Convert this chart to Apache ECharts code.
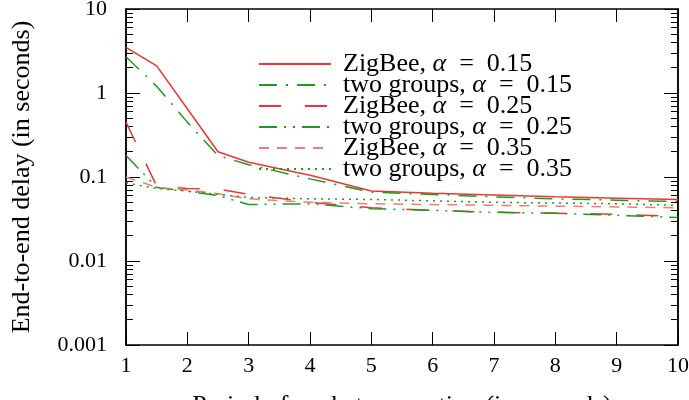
<!DOCTYPE html>
<html>
<head>
<meta charset="utf-8">
<script src="https://cdn.jsdelivr.net/npm/echarts@6/dist/echarts.min.js"></script>
<style>
  html, body { margin: 0; padding: 0; background: #fff; }
  #chart { width: 689px; height: 400px; }
</style>
</head>
<body>
<div id="chart"></div>
<script>
// packet generation period (s)
const periods = [1, 1.5, 2, 2.5, 3, 4, 5, 6, 7, 8, 9, 10]

// end-to-end delay (s)
const zigbee15 = [3.5, 2.1, 0.65, 0.2, 0.15, 0.105, 0.068, 0.064, 0.061, 0.058, 0.056, 0.054]
const groups15 = [2.7, 1.2, 0.45, 0.18, 0.14, 0.095, 0.066, 0.062, 0.058, 0.055, 0.053, 0.051]
const zigbee25 = [0.45, 0.078, 0.073, 0.072, 0.062, 0.05, 0.043, 0.04, 0.038, 0.037, 0.036, 0.034]
const groups25 = [0.18, 0.075, 0.068, 0.06, 0.047, 0.048, 0.042, 0.04, 0.038, 0.037, 0.035, 0.033]
const zigbee35 = [0.1, 0.075, 0.07, 0.063, 0.055, 0.05, 0.048, 0.047, 0.046, 0.045, 0.044, 0.043]
const groups35 = [0.085, 0.073, 0.068, 0.062, 0.057, 0.055, 0.054, 0.052, 0.05, 0.049, 0.048, 0.046]

const xTicks = [1, 2, 3, 4, 5, 6, 7, 8, 9, 10]
const yTicks = [0.001, 0.01, 0.1, 1, 10]
const yTickLabels = ['0.001', '0.01', '0.1', '1', '10']

const RED = '#f03434'
const RED_LIGHT = '#f47a7a'
const GREEN = '#1e9a1e'
const FONT = 'Liberation Serif'

// minor ticks at 2..9 of every decade
const yMinor = []
yTicks.slice(0, -1).forEach(d => {
  for (let k = 2; k <= 9; k++) yMinor.push(+(d * k).toPrecision(3))
})

const pairs = ys => periods.map((x, i) => [x, ys[i]])

const curves = [
  { name: 'ZigBee, α = 0.15', data: zigbee15, color: RED, type: 'solid' },
  { name: 'two groups, α = 0.15', data: groups15, color: GREEN, type: [18, 9, 2, 9] },
  { name: 'ZigBee, α = 0.25', data: zigbee25, color: RED, type: [22, 24] },
  { name: 'two groups, α = 0.25', data: groups25, color: GREEN, type: [18, 7, 2, 7, 2, 7] },
  { name: 'ZigBee, α = 0.35', data: zigbee35, color: RED_LIGHT, type: [10, 8] },
  { name: 'two groups, α = 0.35', data: groups35, color: GREEN, type: [2, 5] }
]

function xAxis(pos, labels) {
  return {
    type: 'value', position: pos, min: 1, max: 10, interval: 1,
    axisLine: { show: true, onZero: false, lineStyle: { color: '#000', width: 1.5 } },
    axisTick: { show: true, inside: true, length: 13, customValues: xTicks.slice() },
    axisLabel: labels
      ? { show: true, color: '#000', fontFamily: FONT, fontSize: 22, margin: 10, customValues: xTicks.slice() }
      : { show: false },
    splitLine: { show: false },
    name: labels ? 'Period of packet generation (in seconds)' : '',
    nameLocation: 'middle', nameGap: 48,
    nameTextStyle: { color: '#000', fontFamily: FONT, fontSize: 26 }
  }
}

function yAxis(pos, minor, opts) {
  return Object.assign({
    type: 'log', position: pos, min: 0.001, max: 10, logBase: 10,
    axisLine: { show: true, onZero: false, lineStyle: { color: '#000', width: 1.5 } },
    axisTick: { show: true, inside: true, length: minor ? 7 : 14, customValues: (minor ? yMinor : yTicks).slice() },
    axisLabel: { show: false },
    splitLine: { show: false }
  }, opts)
}

const chart = echarts.init(document.getElementById('chart'))
chart.setOption({
  animation: false,
  backgroundColor: '#fff',
  grid: { left: 126, right: 11, top: 9, bottom: 55, containLabel: false, outerBoundsMode: 'none' },
  legend: {
    left: 253, top: 46, orient: 'vertical',
    itemWidth: 72, itemHeight: 14, itemGap: -5,
    itemStyle: { opacity: 0 },
    textStyle: {
      color: '#000', fontFamily: FONT, fontSize: 26, padding: [0, 0, 0, 7],
      rich: { a: { fontFamily: FONT, fontStyle: 'italic', fontSize: 26 } }
    },
    formatter: name => name.replace('α', '{a|α}').replace('=', ' = '),
    data: curves.map(c => c.name)
  },
  xAxis: [xAxis('bottom', true), xAxis('top', false)],
  yAxis: [
    yAxis('left', false, {
      axisLabel: {
        show: true, color: '#000', fontFamily: FONT, fontSize: 22, margin: 19,
        customValues: yTicks.slice(),
        formatter: v => yTickLabels[yTicks.findIndex(t => Math.abs(Math.log10(t) - Math.log10(v)) < 1e-6)] || ''
      },
      name: 'End-to-end delay (in seconds)', nameLocation: 'middle', nameGap: 91,
      nameTextStyle: { color: '#000', fontFamily: FONT, fontSize: 26 }
    }),
    yAxis('left', true),
    yAxis('right', false),
    yAxis('right', true)
  ],
  series: curves.map(c => ({
    name: c.name,
    type: 'line',
    xAxisIndex: 0,
    yAxisIndex: 0,
    showSymbol: false,
    symbol: 'none',
    color: c.color,
    lineStyle: { color: c.color, width: 1.5, type: c.type },
    data: pairs(c.data)
  }))
})
</script>
</body>
</html>
